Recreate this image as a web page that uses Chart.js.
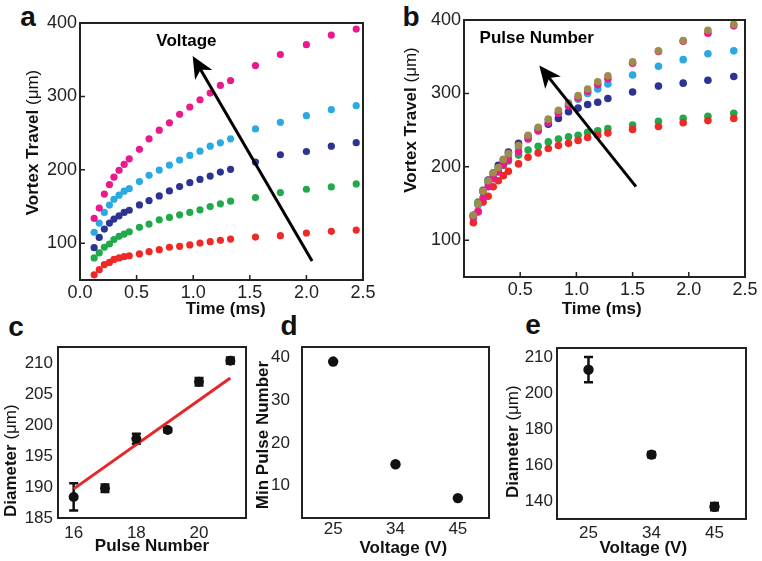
<!DOCTYPE html>
<html>
<head>
<meta charset="utf-8">
<script src="https://cdn.jsdelivr.net/npm/chart.js@4.4.0/dist/chart.umd.min.js"></script>
<style>
  body { margin: 0; width: 762px; height: 561px; overflow: hidden; background: #fff; position: relative;
         font-family: "Liberation Sans", Arial, sans-serif; }
  canvas { position: absolute; }
  .pl { position: absolute; font-weight: bold; font-size: 28px; line-height: 1; transform: translate(-50%, -50%); color: #111; }
</style>
</head>
<body>
<div class="pl" style="left:28px;top:17px">a</div>
<div class="pl" style="left:411px;top:17px">b</div>
<div class="pl" style="left:16px;top:327px">c</div>
<div class="pl" style="left:289px;top:326px">d</div>
<div class="pl" style="left:533px;top:325px">e</div>

<canvas id="ca" width="380" height="320" style="left:0;top:0"></canvas>
<canvas id="cb" width="382" height="320" style="left:380px;top:0"></canvas>
<canvas id="cc" width="255" height="261" style="left:0;top:300px"></canvas>
<canvas id="cd" width="245" height="261" style="left:255px;top:300px"></canvas>
<canvas id="ce" width="262" height="261" style="left:500px;top:300px"></canvas>

<script>
// panel a : vortex travel vs time for increasing voltage
const timeA = [0.125, 0.17, 0.215, 0.26, 0.30, 0.345, 0.39, 0.435, 0.525, 0.61, 0.70, 0.79, 0.88, 0.97, 1.06, 1.15, 1.24, 1.33, 1.55, 1.77, 2.0, 2.22, 2.44];
const aRed   = [57, 64, 71, 74, 78, 80, 82, 83, 85.5, 88.6, 91.3, 94.6, 95.9, 97.7, 100.4, 102.2, 104, 105.8, 108.5, 110.3, 114, 116.3, 118];
const aGreen = [80, 87, 94.6, 99, 105, 109.5, 112.6, 115.7, 121.7, 126.1, 132, 135.2, 138.8, 142, 145.5, 150, 153.7, 157.3, 162.3, 169, 173.6, 176.7, 180.8];
const aNavy  = [94, 108, 119.4, 127.5, 133, 137.4, 142, 145, 152.3, 158.2, 164.5, 171.3, 177.2, 182.6, 187, 191.6, 197, 200.7, 210.6, 220.6, 225, 232.3, 237];
const aCyan  = [115, 127.5, 142, 152, 160, 165.5, 171, 174.5, 184, 192.5, 199.7, 206.5, 213.3, 219.6, 225.5, 232.3, 236.8, 242.3, 255.8, 264.8, 273.8, 282, 287.4];
const aPink  = [134, 148, 167, 180, 190, 199.3, 207.5, 215, 228, 242.3, 254, 264, 275.6, 285.6, 295.5, 304.6, 315, 321.7, 342, 357, 370.5, 383.6, 391.7];

// panel b : vortex travel vs time for increasing pulse number
const timeB = [0.083, 0.125, 0.17, 0.215, 0.26, 0.305, 0.35, 0.395, 0.485, 0.57, 0.66, 0.75, 0.84, 0.93, 1.015, 1.10, 1.19, 1.28, 1.50, 1.73, 1.95, 2.17, 2.40];
const bRed   = [124, 139, 152, 160, 173, 181, 188, 194, 204, 213, 219, 225, 229, 232, 236, 240, 243, 246, 251, 255, 260, 263, 266];
const bGreen = [133, 152, 166, 178, 187, 195, 202, 208, 216, 223, 228, 234, 238, 241, 243, 247, 249, 252, 257, 262, 266, 269, 273];
const bNavy  = [134, 150, 168, 182, 192, 202, 210, 220, 232, 242, 251, 258, 266, 275, 280, 285, 288, 293, 302, 310, 314, 318, 323];
const bCyan  = [134, 148, 166, 180, 190, 198, 207, 215, 227, 241, 253, 264, 274, 285, 292, 300, 306, 313, 325, 337, 346, 354, 358];
const bPink  = [131, 139, 158, 173, 184, 193, 203, 210, 221, 238, 249, 260, 273, 283, 294, 303, 312, 320, 341, 357, 371, 382, 392];
const bBrown = [134, 150, 167, 181, 192, 199, 210, 218, 229, 243, 254, 265, 277, 287, 297, 306, 316, 324, 343, 358, 372, 386, 394];

const timeTicksA = [0, 0.5, 1.0, 1.5, 2.0, 2.5];
const timeTicksB = [0.5, 1.0, 1.5, 2.0, 2.5];
const travelTicks = [100, 200, 300, 400];

// panel c : diameter vs pulse number
const pulseC = [16, 17, 18, 19, 20, 21];
const diamC  = [188.4, 189.8, 197.8, 199.2, 207.0, 210.4];
const errC   = [2.2, 0.6, 0.8, 0.3, 0.6, 0.5];
const fitX   = [16, 21];
const fitY   = [189.7, 207.6];
const pulseTicks = [16, 18, 20];
const diamTicksC = [185, 190, 195, 200, 205, 210];

// panel d : minimum pulse number vs voltage
const voltages = ['25', '34', '45'];
const minPulse = [39, 15, 7.1];
const minPulseTicks = [10, 20, 30, 40];

// panel e : diameter vs voltage
const diamE = [213, 166, 137.2];
const errE  = [7, 1.5, 2];
const diamTicksE = [140, 160, 180, 200, 220];
const diamTickLabelsE = ['140', '160', '180', '200', '210'];

const FONT = '"Liberation Sans", Arial, Helvetica, sans-serif';
Chart.defaults.font.family = FONT;
Chart.defaults.color = '#222';
Chart.defaults.animation = false;
Chart.defaults.plugins.legend.display = false;
Chart.defaults.plugins.tooltip.enabled = false;

// extra drawing per canvas: frame, inward ticks, arrow, axis titles
const DECOR = {
  ca: { inTicks: true,
        arrow: { from: [2.05, 76], to: [0.995, 355], text: 'Voltage', tx: 0.94, ty: 374.6 },
        titles: [ { parts: [['Vortex Travel ', 'bold'], ['(\u03bcm)', 'normal']], x: 33, y: 142.5, rot: true },
                  { parts: [['Time (ms)', 'bold']], x: 225.7, y: 309 } ] },
  cb: { inTicks: true,
        arrow: { from: [1.53, 173], to: [0.67, 338], text: 'Pulse Number', tx: 0.647, ty: 374.6 },
        titles: [ { parts: [['Vortex Travel ', 'bold'], ['(\u03bcm)', 'normal']], x: 31.7, y: 120, rot: true },
                  { parts: [['Time (ms)', 'bold']], x: 221.7, y: 309.3 } ] },
  cc: { titles: [ { parts: [['Diameter ', 'bold'], ['(\u03bcm)', 'normal']], x: 11.7, y: 160.7, rot: true },
                  { parts: [['Pulse Number', 'bold']], x: 152, y: 246.7 } ] },
  cd: { titles: [ { parts: [['Min Pulse Number', 'bold']], x: 8.8, y: 135, rot: true },
                  { parts: [['Voltage (V)', 'bold']], x: 148.3, y: 248.3 } ] },
  ce: { titles: [ { parts: [['Diameter ', 'bold'], ['(\u03bcm)', 'normal']], x: 13.3, y: 141.7, rot: true },
                  { parts: [['Voltage (V)', 'bold']], x: 143.3, y: 248.3 } ] }
};

const decor = {
  id: 'decor',
  beforeDatasetsDraw(chart) {
    const ctx = chart.ctx, ys = chart.scales.y;
    chart.data.datasets.forEach((ds, i) => {
      if (!ds.errors) return;
      const meta = chart.getDatasetMeta(i);
      ctx.save();
      ctx.strokeStyle = '#111';
      ctx.lineWidth = 2.5;
      meta.data.forEach((el, j) => {
        const d = ds.data[j];
        const v = typeof d === 'object' ? d.y : d;
        const t = ys.getPixelForValue(v + ds.errors[j]);
        const b = ys.getPixelForValue(v - ds.errors[j]);
        ctx.beginPath();
        ctx.moveTo(el.x, t); ctx.lineTo(el.x, b);
        ctx.moveTo(el.x - 4.5, t); ctx.lineTo(el.x + 4.5, t);
        ctx.moveTo(el.x - 4.5, b); ctx.lineTo(el.x + 4.5, b);
        ctx.stroke();
      });
      ctx.restore();
    });
  },
  afterDraw(chart) {
    const o = DECOR[chart.canvas.id];
    if (!o) return;
    const ctx = chart.ctx, a = chart.chartArea, xs = chart.scales.x, ys = chart.scales.y;
    ctx.save();
    ctx.strokeStyle = '#222';
    ctx.lineWidth = 2;
    ctx.strokeRect(a.left, a.top, a.right - a.left, a.bottom - a.top);
    if (o.inTicks) {
      ctx.lineWidth = 1.5;
      ctx.beginPath();
      xs.ticks.forEach((t, i) => { const p = xs.getPixelForTick(i); ctx.moveTo(p, a.bottom); ctx.lineTo(p, a.bottom - 5); });
      ys.ticks.forEach((t, i) => { const p = ys.getPixelForTick(i); ctx.moveTo(a.left, p); ctx.lineTo(a.left + 5, p); });
      ctx.stroke();
    }
    if (o.arrow) {
      const A = o.arrow;
      const x0 = xs.getPixelForValue(A.from[0]), y0 = ys.getPixelForValue(A.from[1]);
      const x1 = xs.getPixelForValue(A.to[0]), y1 = ys.getPixelForValue(A.to[1]);
      const ang = Math.atan2(y1 - y0, x1 - x0), c = Math.cos(ang), s = Math.sin(ang);
      const L = 22, W = 10;
      ctx.strokeStyle = '#000';
      ctx.fillStyle = '#000';
      ctx.lineWidth = 3;
      ctx.beginPath();
      ctx.moveTo(x0, y0);
      ctx.lineTo(x1 - c * L * 0.7, y1 - s * L * 0.7);
      ctx.stroke();
      ctx.beginPath();
      ctx.moveTo(x1, y1);
      ctx.lineTo(x1 - c * L - s * W, y1 - s * L + c * W);
      ctx.lineTo(x1 - c * L * 0.72, y1 - s * L * 0.72);
      ctx.lineTo(x1 - c * L + s * W, y1 - s * L - c * W);
      ctx.closePath();
      ctx.fill();
      ctx.font = 'bold 17px ' + FONT;
      ctx.textAlign = 'center';
      ctx.textBaseline = 'middle';
      ctx.fillText(A.text, xs.getPixelForValue(A.tx), ys.getPixelForValue(A.ty));
    }
    ctx.fillStyle = '#111';
    ctx.textBaseline = 'middle';
    ctx.textAlign = 'left';
    (o.titles || []).forEach(t => {
      ctx.save();
      ctx.translate(t.x, t.y);
      if (t.rot) ctx.rotate(-Math.PI / 2);
      let total = 0;
      t.parts.forEach(p => { ctx.font = p[1] + ' 17px ' + FONT; total += ctx.measureText(p[0]).width; });
      let x = -total / 2;
      t.parts.forEach(p => { ctx.font = p[1] + ' 17px ' + FONT; ctx.fillText(p[0], x, 0); x += ctx.measureText(p[0]).width; });
      ctx.restore();
    });
    ctx.restore();
  }
};
Chart.register(decor);

function pts(xs, ys) { return xs.map((x, i) => ({ x: x, y: ys[i] })); }

function dots(label, xs, ys, color, r) {
  return { label: label, data: pts(xs, ys), backgroundColor: color, borderWidth: 0, pointRadius: r, showLine: false };
}

function axis(min, max, ticks, size, pad, fit, fmt) {
  return {
    type: 'linear', min: min, max: max,
    afterBuildTicks: s => { s.ticks = ticks.map(v => ({ value: v })); },
    afterFit: fit,
    ticks: { font: { size: size }, padding: pad, color: '#222', callback: fmt || (v => v) },
    grid: { display: false, drawTicks: false },
    border: { display: false }
  };
}

const oneDec = v => v.toFixed(1);

new Chart('ca', {
  type: 'scatter',
  data: { datasets: [
    dots('pink', timeA, aPink, '#ea1a8c', 3.6),
    dots('cyan', timeA, aCyan, '#2aaae2', 3.6),
    dots('navy', timeA, aNavy, '#2c3491', 3.6),
    dots('green', timeA, aGreen, '#21aa4c', 3.6),
    dots('red', timeA, aRed, '#ee2a26', 3.6)
  ] },
  options: {
    responsive: false,
    layout: { padding: { top: 23, right: 17, left: 0, bottom: 0 } },
    scales: {
      x: axis(0, 2.5, timeTicksA, 18, 2, s => { s.height = 40; }, oneDec),
      y: axis(50, 400, travelTicks, 18, 3, s => { s.width = 80; })
    }
  }
});

new Chart('cb', {
  type: 'scatter',
  data: { datasets: [
    dots('brown', timeB, bBrown, '#a08b4d', 3.8),
    dots('pink', timeB, bPink, '#ea1a8c', 3.8),
    dots('red', timeB, bRed, '#ee2a26', 3.8),
    dots('green', timeB, bGreen, '#21aa4c', 3.8),
    dots('cyan', timeB, bCyan, '#2aaae2', 3.8),
    dots('navy', timeB, bNavy, '#2c3491', 3.8)
  ] },
  options: {
    responsive: false,
    layout: { padding: { top: 20, right: 17, left: 0, bottom: 0 } },
    scales: {
      x: axis(0, 2.5, timeTicksB, 18, 2, s => { s.height = 43; }, oneDec),
      y: axis(50, 400, travelTicks, 18, 3, s => { s.width = 84; })
    }
  }
});

new Chart('cc', {
  type: 'scatter',
  data: { datasets: [
    Object.assign(dots('diameter', pulseC, diamC, '#111', 5), { errors: errC }),
    { label: 'fit', data: pts(fitX, fitY), showLine: true, borderColor: '#e8262a', borderWidth: 3, pointRadius: 0 }
  ] },
  options: {
    responsive: false,
    layout: { padding: { top: 47, right: 9, left: 0, bottom: 0 } },
    scales: {
      x: axis(15.5, 21.5, pulseTicks, 17, 5, s => { s.height = 43; }),
      y: axis(185, 212.6, diamTicksC, 17, 5, s => { s.width = 58; })
    }
  }
});

function catAxis(size, pad, h) {
  return {
    type: 'category', offset: true,
    afterFit: s => { s.height = h; },
    ticks: { font: { size: size }, padding: pad, color: '#222' },
    grid: { display: false, drawTicks: false },
    border: { display: false }
  };
}

new Chart('cd', {
  type: 'line',
  data: { labels: voltages, datasets: [
    { label: 'min pulse', data: minPulse, showLine: false, backgroundColor: '#111', borderWidth: 0, pointRadius: 5.2 }
  ] },
  options: {
    responsive: false,
    layout: { padding: { top: 47, right: 11, left: 0, bottom: 0 } },
    scales: {
      x: catAxis(17, 1.5, 43),
      y: axis(2.45, 42.4, minPulseTicks, 17, 12, s => { s.width = 47; })
    }
  }
});

new Chart('ce', {
  type: 'line',
  data: { labels: voltages, datasets: [
    { label: 'diameter', data: diamE, errors: errE, showLine: false, backgroundColor: '#111', borderWidth: 0, pointRadius: 5.2 }
  ] },
  options: {
    responsive: false,
    layout: { padding: { top: 48, right: 16, left: 0, bottom: 0 } },
    scales: {
      x: catAxis(17, 4, 42),
      y: axis(130.4, 225, diamTicksE, 17, 4, s => { s.width = 57; }, (v, i) => diamTickLabelsE[i])
    }
  }
});
</script>
</body>
</html>
